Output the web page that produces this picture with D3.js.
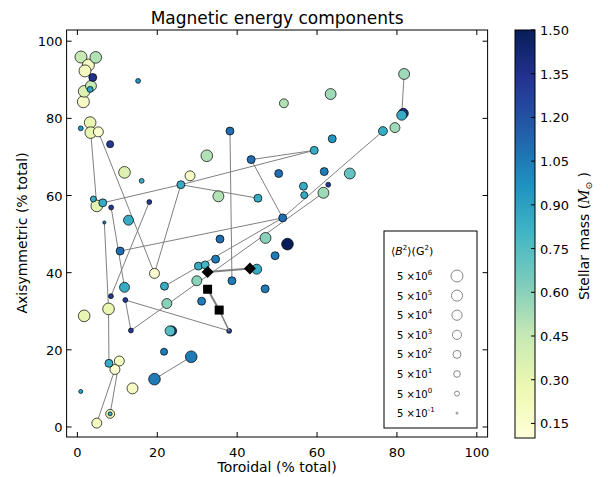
<!DOCTYPE html>
<html><head><meta charset="utf-8">
<script src="https://cdn.jsdelivr.net/npm/d3@7"></script>
<style>body{margin:0;background:#fff}svg{display:block}text{font-family:"DejaVu Sans",sans-serif}</style>
</head><body>
<svg id="c" width="608" height="477"></svg>
<script>
// ---- data ----
const toroidal = [0.9,4.6,2.75,1.9,3.85,3.4,3.2,1.7,1.5,15.2,3.2,0.85,3.35,5.25,8.2,
 11.8,16.1,28.2,25.9,4.85,6.35,4.0,8.45,18.0,6.75,12.8,10.7,19.3,21.8,11.8,8.4,12.0,13.4,1.7,7.8,22.4,23.6,23.2,21.7,28.5,19.3,7.9,10.5,9.4,0.85,13.8,8.2,8.2,4.85,
 32.4,38.2,51.7,63.4,63.8,59.3,43.5,50.4,61.8,68.2,56.6,62.8,56.8,61.6,35.3,45.2,51.4,47.1,52.6,35.7,49.5,34.6,44.9,38.7,47.0,30.3,32.0,29.9,31.1,38.0,
 81.8,81.6,81.2,79.5,76.5];
const axisym = [95.9,95.8,93.8,92.3,90.6,88.4,87.5,87.0,84.3,89.7,78.9,77.4,76.3,76.5,73.3,
 66.0,63.8,65.1,62.8,57.3,58.1,59.1,56.9,58.3,53.0,53.6,45.6,39.8,36.5,36.2,33.9,32.9,25.0,28.8,30.6,32.0,24.9,24.9,19.5,18.2,12.4,16.5,17.1,14.9,9.2,10.0,3.4,3.4,1.0,
 70.3,76.7,83.9,86.3,74.7,71.7,69.3,65.7,66.2,65.7,62.4,62.8,60.1,60.7,59.8,59.3,54.2,49.0,47.4,48.7,44.4,43.5,40.9,37.9,35.8,41.7,42.0,37.9,32.6,24.9,
 91.5,81.3,80.8,77.6,76.7];
const mass = [0.45,0.5,0.2,0.2,1.35,0.45,0.9,0.35,0.2,0.95,0.3,0.95,0.3,0.15,1.3,
 0.35,0.85,0.2,0.85,0.32,0.85,0.85,1.3,1.3,1.1,0.85,1.1,0.15,0.85,0.85,1.3,1.3,1.3,0.3,0.3,0.6,1.3,0.75,1.05,1.05,1.05,0.85,0.2,0.15,0.9,0.2,0.25,0.85,0.2,
 0.5,1.1,0.5,0.55,0.95,0.85,1.1,1.1,1.05,0.7,0.85,1.3,0.85,0.55,0.5,0.85,1.1,0.6,1.5,1.1,1.05,1.05,0.85,1.05,1.05,0.85,0.8,0.6,1.05,1.3,
 0.55,1.35,0.85,0.55,0.85];
const bsq = [5e6,2e6,5e6,5e6,500,3e5,20,2e6,5e6,5,2e6,5,2e6,3e4,100,
 2e6,5,3e4,500,2e6,500,20,5,5,1,3e4,500,3e4,500,3e4,5,5,5,2e6,2e6,3e4,3e4,3e4,100,2e6,2e6,500,3e4,3e4,2,3e5,3e3,2,3e4,
 2e6,500,3e3,3e5,500,500,500,500,500,3e5,500,5,100,3e5,3e5,500,500,3e5,2e6,500,500,500,3e4,500,500,500,500,3e4,500,5,
 3e5,3e4,3e4,3e4,3e3];
// connected epochs (point indices)
const tracks = [[12,19],[13,27,18],[20,18,54],[18,64],[55,54],[55,65],[83,65],[26,65],[79,81],[50,72],
 [22,29],[23,30],[24,34,41],[31,32,62],[31,78],[43,48],[42,46],[40,39],[28,65],[21,20]];
const meanT = [32.6,43.2,32.6,35.5];
const meanA = [40.2,41.1,35.7,30.3];
const meanShape = ["diamond","diamond","square","square"];
const meanTracks = [[0,1],[2,3]];
const meanToPoint = [[3,78]];
const xTicks = [0,20,40,60,80,100];
const yTicks = [0,20,40,60,80,100];
const cTicks = [0.15,0.30,0.45,0.60,0.75,0.90,1.05,1.20,1.35,1.50];
const legendB = [5e6,5e5,5e4,5e3,5e2,5e1,5e0,5e-1];
const legendExp = [6,5,4,3,2,1,0,-1];
const cmapColors = ["#ffffd9","#edf8b1","#c7e9b4","#7fcdbb","#41b6c4","#1d91c0","#225ea8","#253494","#081d58"];

// ---- drawing ----
const svg = d3.select("#c");
const L=66.6,R=487.6,T=30,B=437;
const x = d3.scaleLinear().domain([-2.7,102.7]).range([L,R]);
const y = d3.scaleLinear().domain([-2.6,102.9]).range([B,T]);
const cmin=0.1,cmax=1.5;
const color = d3.scaleLinear().domain(d3.range(9).map(i=>cmin+(cmax-cmin)*i/8)).range(cmapColors).interpolate(d3.interpolateRgb);
const area = d3.scaleLinear().domain([-0.3,6.7]).range([1,36]);
const rad = b => Math.sqrt(Math.max(0.6,area(Math.log10(b))));

const g = svg.append("g");
tracks.forEach(t=>{
  g.append("path").attr("d",d3.line()(t.map(i=>[x(toroidal[i]),y(axisym[i])])))
   .attr("fill","none").attr("stroke","#808080").attr("stroke-width",1);
});
const idx = d3.range(toroidal.length).sort((a,b)=>bsq[b]-bsq[a]);
g.selectAll("circle.p").data(idx).join("circle").attr("class","p")
 .attr("cx",i=>x(toroidal[i])).attr("cy",i=>y(axisym[i])).attr("r",i=>rad(bsq[i]))
 .attr("fill",i=>color(mass[i])).attr("stroke","#000").attr("stroke-width",0.7);
meanTracks.forEach(t=>{
  g.append("path").attr("d",d3.line()(t.map(i=>[x(meanT[i]),y(meanA[i])])))
   .attr("fill","none").attr("stroke","#808080").attr("stroke-width",2);
});
meanToPoint.forEach(([m,p])=>{
  g.append("path").attr("d",d3.line()([[x(meanT[m]),y(meanA[m])],[x(toroidal[p]),y(axisym[p])]]))
   .attr("fill","none").attr("stroke","#808080").attr("stroke-width",1.5);
});
meanT.forEach((v,i)=>{
  const cx=x(v),cy=y(meanA[i]);
  if(meanShape[i]==="diamond"){
    g.append("path").attr("d",`M${cx},${cy-6}L${cx+6},${cy}L${cx},${cy+6}L${cx-6},${cy}Z`).attr("fill","#000");
  } else {
    g.append("rect").attr("x",cx-4.5).attr("y",cy-4.5).attr("width",9).attr("height",9).attr("fill","#000");
  }
});
svg.append("rect").attr("x",L).attr("y",T).attr("width",R-L).attr("height",B-T).attr("fill","none").attr("stroke","#000").attr("stroke-width",1);
const tk = svg.append("g").attr("stroke","#000").attr("stroke-width",1);
xTicks.forEach(t=>{tk.append("line").attr("x1",x(t)).attr("x2",x(t)).attr("y1",B).attr("y2",B-5);
  tk.append("line").attr("x1",x(t)).attr("x2",x(t)).attr("y1",T).attr("y2",T+5);});
yTicks.forEach(t=>{tk.append("line").attr("y1",y(t)).attr("y2",y(t)).attr("x1",L).attr("x2",L+5);
  tk.append("line").attr("y1",y(t)).attr("y2",y(t)).attr("x1",R).attr("x2",R-5);});
svg.append("g").selectAll("text").data(xTicks).join("text").attr("x",d=>x(d)).attr("y",B+20)
 .attr("text-anchor","middle").attr("font-size",13).text(d=>d);
svg.append("g").selectAll("text").data(yTicks).join("text").attr("x",L-4).attr("y",d=>y(d)+5)
 .attr("text-anchor","end").attr("font-size",13).text(d=>d);
svg.append("text").attr("x",(L+R)/2).attr("y",24).attr("text-anchor","middle").attr("font-size",17).text("Magnetic energy components");
svg.append("text").attr("x",(L+R)/2).attr("y",472).attr("text-anchor","middle").attr("font-size",14).text("Toroidal (% total)");
svg.append("text").attr("transform","translate(27,233) rotate(-90)").attr("text-anchor","middle").attr("font-size",14).text("Axisymmetric (% total)");

const lg = svg.append("g");
lg.append("rect").attr("x",384).attr("y",231).attr("width",93).attr("height",197).attr("fill","#fff").attr("stroke","#000").attr("stroke-width",1);
const lt = lg.append("text").attr("x",391).attr("y",255).attr("font-family","DejaVu Serif, serif").attr("font-size",11);
lt.append("tspan").text("⟨");
lt.append("tspan").attr("font-style","italic").text("B");
lt.append("tspan").attr("font-size",7).attr("dy",-5).text("2");
lt.append("tspan").attr("dy",5).text("⟩(G");
lt.append("tspan").attr("font-size",7).attr("dy",-5).text("2");
lt.append("tspan").attr("dy",5).text(")");
legendB.forEach((b,i)=>{
  const yy = 276 + i*19.6;
  const t = lg.append("text").attr("x",397).attr("y",yy+4).attr("font-family","DejaVu Serif, serif").attr("font-size",10);
  t.append("tspan").text("5 ×10");
  t.append("tspan").attr("font-size",7).attr("dy",-5).text(legendExp[i]);
  lg.append("circle").attr("cx",457).attr("cy",yy).attr("r",rad(b)).attr("fill","#fff").attr("stroke","#888").attr("stroke-width",1);
});

const cb = d3.scaleLinear().domain([cmin,cmax]).range([438,30]);
const defs = svg.append("defs");
const grad = defs.append("linearGradient").attr("id","cg").attr("x1",0).attr("y1",1).attr("x2",0).attr("y2",0);
d3.range(0,1.0001,0.02).forEach(f=>grad.append("stop").attr("offset",f).attr("stop-color",color(cmin+(cmax-cmin)*f)));
svg.append("rect").attr("x",515).attr("y",30).attr("width",20).attr("height",408).attr("fill","url(#cg)").attr("stroke","#000").attr("stroke-width",1);
cTicks.forEach(t=>{
  svg.append("line").attr("x1",531).attr("x2",535).attr("y1",cb(t)).attr("y2",cb(t)).attr("stroke","#000");
  svg.append("text").attr("x",540).attr("y",cb(t)+5).attr("font-size",13).text(t.toFixed(2));
});
const cl = svg.append("text").attr("transform","translate(589,236) rotate(-90)").attr("text-anchor","middle").attr("font-size",14);
cl.append("tspan").text("Stellar mass (");
cl.append("tspan").attr("font-style","italic").attr("font-family","DejaVu Serif, serif").text("M");
cl.append("tspan").attr("font-size",9).attr("dy",3).text("⊙");
cl.append("tspan").attr("dy",-3).text(" )");
</script>
</body></html>
